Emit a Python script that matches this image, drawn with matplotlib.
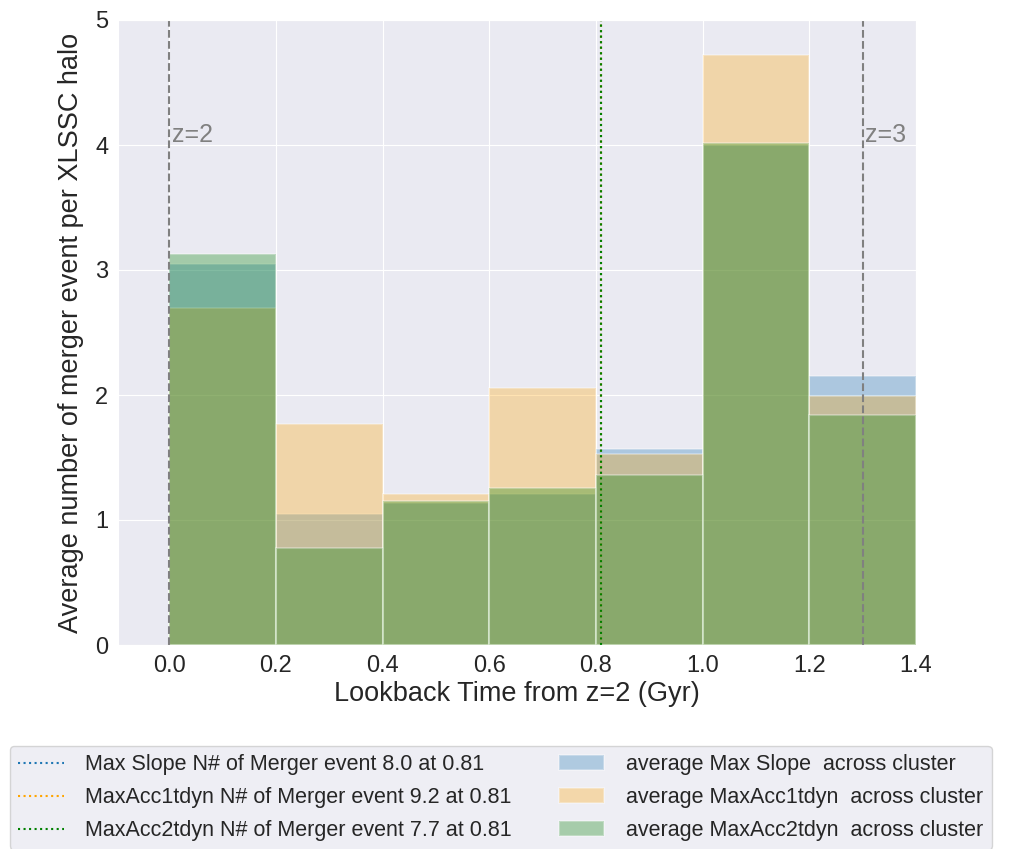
import matplotlib
matplotlib.use("Agg")
import matplotlib.pyplot as plt
import seaborn as sns
import numpy as np

sns.set_style("darkgrid")
plt.rcParams['font.family'] = ['Liberation Sans', 'DejaVu Sans']

# Bin edges of lookback time from z=2 (Gyr)
bin_left = [0.0, 0.2, 0.4, 0.6, 0.8, 1.0, 1.2]
bin_width = 0.2

# Average number of merger events per halo in each bin
max_slope = [3.05, 1.05, 1.14, 1.21, 1.57, 4.00, 2.15]
max_acc1 = [2.70, 1.77, 1.21, 2.06, 1.53, 4.72, 1.99]
max_acc2 = [3.13, 0.78, 1.15, 1.26, 1.36, 4.02, 1.84]

series_names = ["Max Slope", "MaxAcc1tdyn", "MaxAcc2tdyn"]
peak_counts = [8.0, 9.2, 7.7]
peak_time = 0.81
colors = ["tab:blue", "orange", "green"]

z_marks = [0.0, 1.3]
z_labels = ["z=2", "z=3"]

fig = plt.figure(figsize=(10.18, 8.49), dpi=100)
ax = fig.add_axes([118 / 1018, 1 - 645 / 849, 798 / 1018, 625 / 849])

line_handles = []
for name, cnt, c in zip(series_names, peak_counts, colors):
    h = ax.axvline(peak_time, color=c, linestyle=":", linewidth=1.5,
                   label=f"{name} N# of Merger event {cnt} at {peak_time}")
    line_handles.append(h)

bar_handles = []
for name, vals, c in zip(series_names, [max_slope, max_acc1, max_acc2], colors):
    b = ax.bar(bin_left, vals, width=bin_width, align="edge", color=c,
               alpha=0.3, edgecolor="white", linewidth=1.5,
               label=f"average {name}  across cluster")
    bar_handles.append(b)

for zx, zl in zip(z_marks, z_labels):
    ax.axvline(zx, color="gray", linestyle="--", linewidth=1.5)
    ax.text(zx + 0.005, 4.02, zl, color="gray", fontsize=18)

ax.set_xlim(-0.096, 1.4)
ax.set_ylim(0, 5)
ax.set_xticks(np.arange(0, 1.41, 0.2))
ax.set_yticks(np.arange(0, 6, 1))
ax.tick_params(labelsize=17)
ax.set_xlabel("Lookback Time from z=2 (Gyr)", fontsize=19.5, labelpad=3)
ax.set_ylabel("Average number of merger event per XLSSC halo", fontsize=19.5, labelpad=8)

ax.legend(handles=line_handles + bar_handles, ncol=2, loc="upper left",
          bbox_to_anchor=(-0.149, -0.144), fontsize=15.5, borderpad=0.4,
          handlelength=2.1, handletextpad=1.0, columnspacing=2.2,
          labelspacing=0.55)

fig.savefig("out.png", dpi=100)
